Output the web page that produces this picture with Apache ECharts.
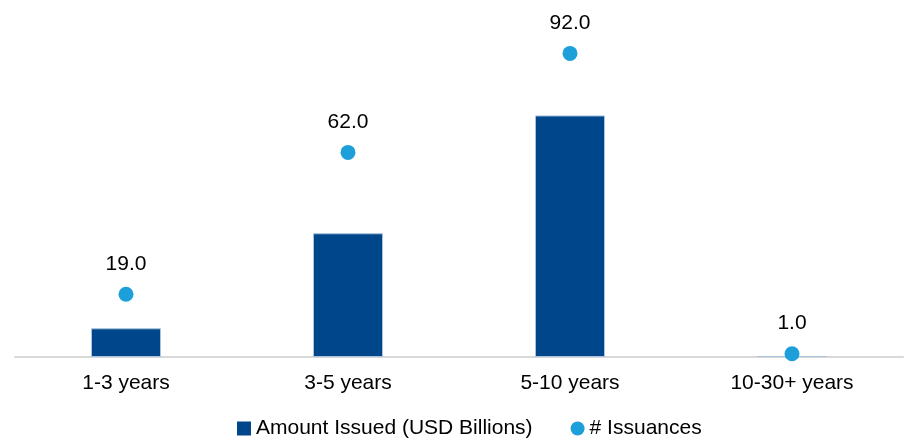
<!DOCTYPE html>
<html>
<head>
<meta charset="utf-8">
<script src="https://cdn.jsdelivr.net/npm/echarts@6/dist/echarts.min.js"></script>
<style>
  html, body { margin: 0; padding: 0; background: #ffffff; }
  #chart { width: 914px; height: 440px; }
</style>
</head>
<body>
<div id="chart"></div>
<script>
// Maturity buckets along the x axis
const categories = ['1-3 years', '3-5 years', '5-10 years', '10-30+ years'];
// Amount issued per bucket (USD billions)
const amountIssued = [8.7, 37.5, 73.2, 0.3];
// Number of issuances per bucket
const issuances = [19, 62, 92, 1];

const FONT = '"Liberation Sans", Arial, sans-serif';

const chart = echarts.init(document.getElementById('chart'), null, { renderer: 'canvas' });

chart.setOption({
  animation: false,
  textStyle: { fontFamily: FONT },
  grid: { left: 15, right: 11, top: 27, bottom: 83 },
  legend: {
    left: 237,
    top: 418,
    padding: 0,
    itemGap: 38,
    itemWidth: 14,
    itemHeight: 14,
    textStyle: { fontSize: 21, color: '#000000', fontFamily: FONT },
    data: [
      { name: 'Amount Issued (USD Billions)', icon: 'rect', itemStyle: { borderWidth: 0 } },
      { name: '# Issuances', icon: 'circle' }
    ]
  },
  xAxis: {
    type: 'category',
    data: categories,
    axisLine: { show: true, lineStyle: { color: '#d9d9d9', width: 2 } },
    axisTick: { show: false },
    axisLabel: { fontSize: 21, color: '#000000', margin: 16, fontFamily: FONT },
    splitLine: { show: false }
  },
  yAxis: [
    { type: 'value', min: 0, max: 100, show: false, splitLine: { show: false } },
    { type: 'value', min: 0, max: 100, show: false, splitLine: { show: false } }
  ],
  series: [
    {
      name: 'Amount Issued (USD Billions)',
      type: 'bar',
      yAxisIndex: 0,
      data: amountIssued,
      barWidth: 70,
      itemStyle: { color: '#00468b', borderColor: '#a9c2de', borderWidth: 1 }
    },
    {
      name: '# Issuances',
      type: 'scatter',
      yAxisIndex: 1,
      data: issuances,
      symbol: 'circle',
      symbolSize: 15,
      itemStyle: { color: '#1d9fd9', opacity: 1 },
      label: {
        show: true,
        position: 'top',
        distance: 12,
        fontSize: 21,
        color: '#000000',
        fontFamily: FONT,
        formatter: p => p.value.toFixed(1)
      },
      z: 5
    }
  ]
});
</script>
</body>
</html>
